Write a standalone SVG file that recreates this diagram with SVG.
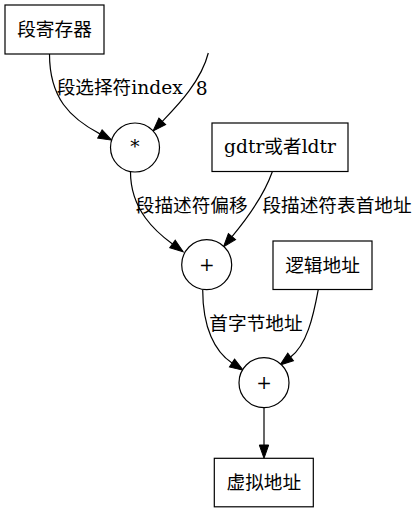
<svg xmlns="http://www.w3.org/2000/svg" width="420" height="513" viewBox="0 0 420 513">
<style>
  .box { fill: #ffffff; stroke: #000000; stroke-width: 1.2; }
  .circ { fill: #ffffff; stroke: #000000; stroke-width: 1.2; }
  .edge { fill: none; stroke: #000000; stroke-width: 1.2; }
  text { font-family: "DejaVu Serif", "Noto Sans CJK SC", serif; font-size: 18.67px; fill: #000000; }
  .c { text-anchor: middle; }
</style>
<defs>
  <marker id="arr" markerUnits="userSpaceOnUse" markerWidth="15" markerHeight="12" refX="0" refY="6" orient="auto" overflow="visible">
    <path d="M0,1.3 L13.3,6 L0,10.7 Z" fill="#000000" stroke="#000000" stroke-width="1"/>
  </marker>
</defs>
<rect width="420" height="513" fill="#ffffff"/>
<g id="edges">
  <path class="edge" d="M49.5,54 C49.5,98 70,118 99.9,133.9" marker-end="url(#arr)"/>
  <path class="edge" d="M208.3,53 C201,82 176,107 162.3,121.3" marker-end="url(#arr)"/>
  <path class="edge" d="M130.5,172 C130.5,210 156,232 172.5,244" marker-end="url(#arr)"/>
  <path class="edge" d="M272.3,171.7 C263,198 245,221 232,236.6" marker-end="url(#arr)"/>
  <path class="edge" d="M202.7,289.7 C202.7,328 215,352 232,363" marker-end="url(#arr)"/>
  <path class="edge" d="M318.3,289.3 C313,318 306.6,345 290.6,357" marker-end="url(#arr)"/>
  <path class="edge" d="M264,407.7 L264,445" marker-end="url(#arr)"/>
  <text class="c" x="119.7" y="94">段选择符index</text>
  <text class="c" x="201.7" y="94.5">8</text>
  <text class="c" x="191.7" y="212">段描述符偏移</text>
  <text class="c" x="337" y="212">段描述符表首地址</text>
  <text class="c" x="256" y="330">首字节地址</text>
</g>
<g id="seg_reg">
  <rect class="box" x="5" y="5" width="99" height="49"/>
  <text class="c" x="54.5" y="36">段寄存器</text>
</g>
<g id="mul">
  <circle class="circ" cx="135" cy="147.5" r="24.5"/>
  <text class="c" x="135" y="153">*</text>
</g>
<g id="gdtr">
  <rect class="box" x="212" y="123" width="136" height="48.5"/>
  <text class="c" x="280" y="153">gdtr或者ldtr</text>
</g>
<g id="add1">
  <circle class="circ" cx="206.7" cy="264.7" r="25"/>
  <text class="c" x="206.7" y="270.5">+</text>
</g>
<g id="logical">
  <rect class="box" x="273" y="241" width="99" height="48.5"/>
  <text class="c" x="322.5" y="271.5">逻辑地址</text>
</g>
<g id="add2">
  <circle class="circ" cx="264" cy="382.7" r="25"/>
  <text class="c" x="264" y="388.5">+</text>
</g>
<g id="virtual">
  <rect class="box" x="214.3" y="458.3" width="99" height="48.5"/>
  <text class="c" x="263.8" y="489">虚拟地址</text>
</g>
</svg>
